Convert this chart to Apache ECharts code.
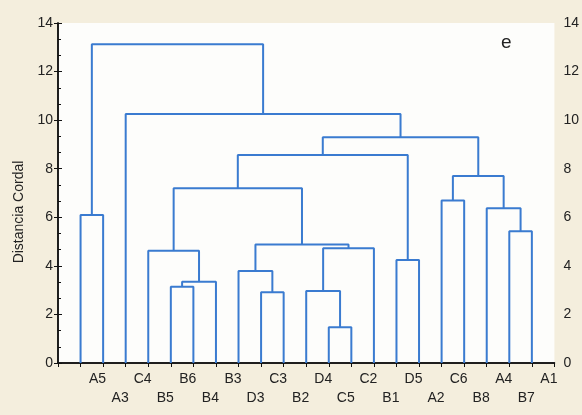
<!DOCTYPE html>
<html>
<head>
<meta charset="utf-8">
<script src="https://cdn.jsdelivr.net/npm/echarts@6/dist/echarts.min.js"></script>
<style>
  html, body { margin: 0; padding: 0; background: #f4eedd; }
  #chart { width: 582px; height: 415px; }
</style>
</head>
<body>
<div id="chart"></div>
<script>
  // hojas en el orden del dendrograma
  var leafLabels = ['A5', 'A3', 'C4', 'B5', 'B6', 'B4', 'B3', 'D3', 'C3', 'B2', 'D4',
                    'C5', 'C2', 'B1', 'D5', 'A2', 'C6', 'B8', 'A4', 'B7', 'A1'];
  // uniones: [hijo izq, hijo der, altura]; indices >= 21 son uniones previas
  var mergeLeft   = [11, 8, 10, 4, 24, 7, 14, 3, 23, 26, 19, 0, 18, 16, 28, 34, 35, 37, 2, 32];
  var mergeRight  = [12, 9, 21, 5, 6, 22, 15, 25, 13, 29, 20, 1, 31, 17, 30, 33, 27, 36, 38, 39];
  var mergeHeight = [1.47, 2.91, 2.96, 3.14, 3.35, 3.79, 4.24, 4.62, 4.72, 4.88, 5.43,
                     6.09, 6.37, 6.69, 7.2, 7.7, 8.56, 9.3, 10.25, 13.13];
  var yTicks = [0, 2, 4, 6, 8, 10, 12, 14];

  var n = leafLabels.length;
  var nodeX = [], nodeY = [];
  for (var i = 0; i < n; i++) { nodeX.push(i + 1); nodeY.push(0); }

  var series = [];
  for (var k = 0; k < mergeHeight.length; k++) {
    var a = mergeLeft[k], b = mergeRight[k], h = mergeHeight[k];
    series.push({
      type: 'line',
      showSymbol: false,
      silent: true,
      lineStyle: { color: '#3a7bd0', width: 2 },
      data: [[nodeX[a], nodeY[a]], [nodeX[a], h], [nodeX[b], h], [nodeX[b], nodeY[b]]]
    });
    nodeX.push((nodeX[a] + nodeX[b]) / 2);
    nodeY.push(h);
  }

  var font = 'Liberation Sans, Arial, sans-serif';
  var chart = echarts.init(document.getElementById('chart'));
  chart.setOption({
    animation: false,
    backgroundColor: '#f4eedd',
    grid: { left: 58, right: 27, top: 23, bottom: 52, show: true, backgroundColor: '#fdfdfb', borderWidth: 0 },
    graphic: [{
      type: 'text', left: 501, top: 33,
      style: { text: 'e', font: '19px ' + font, fill: '#222' }
    }],
    xAxis: [{
      type: 'value', min: 0, max: n + 1, interval: 1, position: 'bottom',
      axisLine: { lineStyle: { color: '#111', width: 1.5 } },
      axisTick: { show: false },
      splitLine: { show: false },
      axisLabel: {
        margin: 7, fontFamily: font, fontSize: 14, color: '#222', lineHeight: 19,
        padding: [0, 0, 0, 34],
        showMinLabel: true, showMaxLabel: true,
        formatter: function (v) {
          var i = Math.round(v) - 1;
          if (i < 0 || i >= n) return '';
          return (i % 2 === 1 ? '\n' : '') + leafLabels[i];
        }
      }
    }, {
      type: 'value', min: 0, max: n + 1, interval: 1, position: 'top',
      axisLine: { lineStyle: { color: '#111', width: 1.5 } },
      axisTick: { inside: true, length: 4, lineStyle: { color: '#111' } },
      splitLine: { show: false },
      axisLabel: { show: false }
    }],
    yAxis: [{
      type: 'value', min: yTicks[0], max: yTicks[yTicks.length - 1], interval: 2, position: 'left',
      name: 'Distancia Cordal', nameLocation: 'middle', nameGap: 32,
      nameTextStyle: { fontFamily: font, fontSize: 14, color: '#222', padding: [0, 38, 0, 0] },
      axisLine: { show: true, lineStyle: { color: '#111', width: 1.5 } },
      axisTick: { inside: true, length: 4, lineStyle: { color: '#111' } },
      minorTick: { show: true, splitNumber: 3, length: 3, lineStyle: { color: '#111' } },
      splitLine: { show: false },
      axisLabel: { margin: 5, fontFamily: font, fontSize: 14, color: '#222' }
    }, {
      type: 'value', min: yTicks[0], max: yTicks[yTicks.length - 1], interval: 2, position: 'right',
      axisLine: { show: true, lineStyle: { color: '#111', width: 1.5 } },
      axisTick: { inside: true, length: 4, lineStyle: { color: '#111' } },
      splitLine: { show: false },
      axisLabel: { margin: 9, fontFamily: font, fontSize: 14, color: '#222' }
    }],
    series: series
  });
</script>
</body>
</html>
